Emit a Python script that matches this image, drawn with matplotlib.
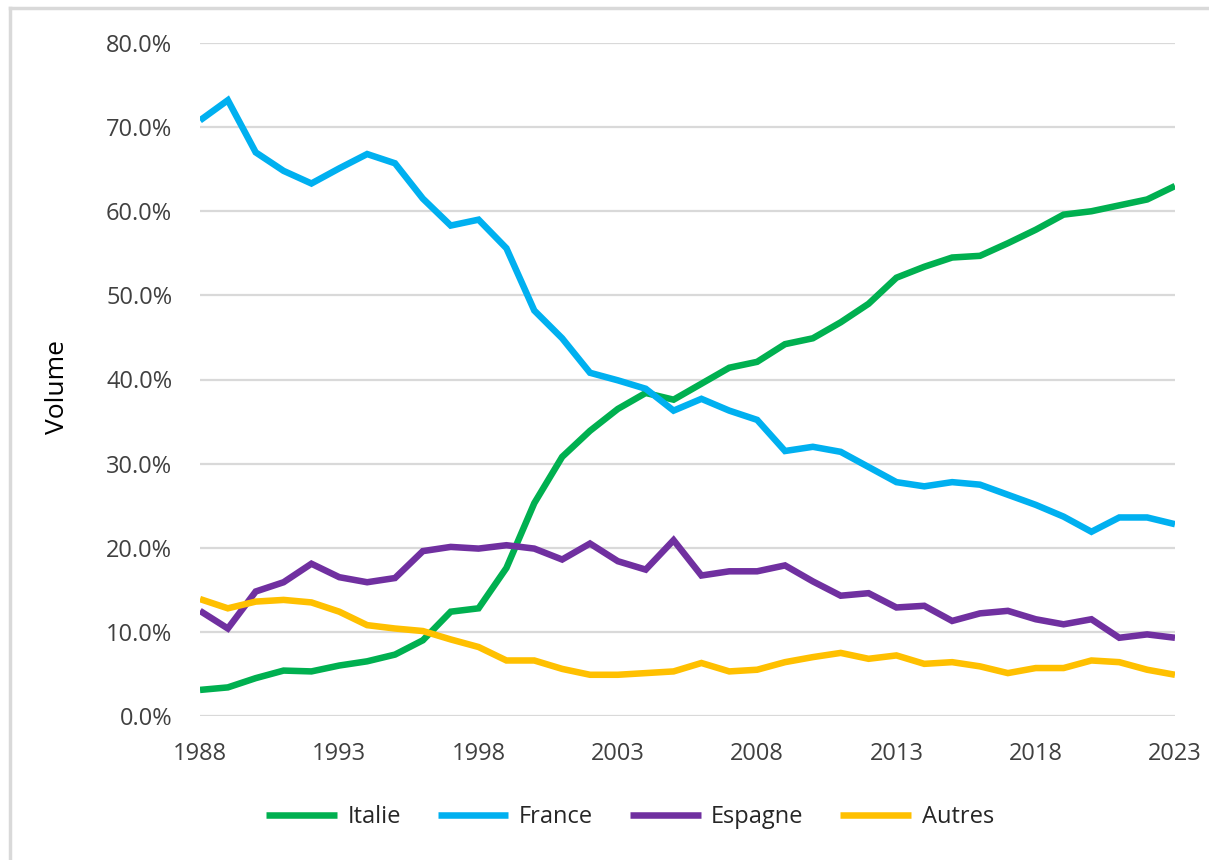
import matplotlib
matplotlib.use("Agg")
import matplotlib.pyplot as plt
from matplotlib.ticker import FuncFormatter, MultipleLocator
from matplotlib.lines import Line2D

years = list(range(1988, 2024))

italie = [3.1, 3.4, 4.5, 5.4, 5.3, 6.0, 6.5, 7.3, 9.0, 12.4, 12.8, 17.6,
          25.3, 30.8, 33.9, 36.5, 38.4, 37.6, 39.5, 41.4, 42.1, 44.2, 44.9, 46.8,
          49.0, 52.1, 53.4, 54.5, 54.7, 56.2, 57.8, 59.6, 60.0, 60.7, 61.4, 63.0]
france = [70.8, 73.2, 67.0, 64.8, 63.3, 65.1, 66.8, 65.7, 61.5, 58.3, 59.0, 55.6,
          48.2, 44.9, 40.8, 39.9, 38.9, 36.3, 37.7, 36.3, 35.2, 31.5, 32.0, 31.4,
          29.6, 27.8, 27.3, 27.8, 27.5, 26.3, 25.1, 23.7, 21.9, 23.6, 23.6, 22.8]
espagne = [12.5, 10.4, 14.8, 15.9, 18.1, 16.5, 15.9, 16.4, 19.6, 20.1, 19.9, 20.3,
           19.9, 18.6, 20.5, 18.4, 17.4, 20.9, 16.7, 17.2, 17.2, 17.9, 16.0, 14.3,
           14.6, 12.9, 13.1, 11.3, 12.2, 12.5, 11.5, 10.9, 11.5, 9.3, 9.7, 9.3]
autres = [13.9, 12.8, 13.6, 13.8, 13.5, 12.4, 10.8, 10.4, 10.1, 9.1, 8.2, 6.6,
          6.6, 5.6, 4.9, 4.9, 5.1, 5.3, 6.3, 5.3, 5.5, 6.4, 7.0, 7.5,
          6.8, 7.2, 6.2, 6.4, 5.9, 5.1, 5.7, 5.7, 6.6, 6.4, 5.5, 4.9]

series_names = ["Italie", "France", "Espagne", "Autres"]
series_values = [italie, france, espagne, autres]
colors = ["#00B050", "#00B0F0", "#7030A0", "#FFC000"]
xtick_years = [1988, 1993, 1998, 2003, 2008, 2013, 2018, 2023]

W, H = 1209, 860
fig = plt.figure(figsize=(W / 100, H / 100), dpi=100)
ax = fig.add_axes([200 / W, 1 - 716 / H, 975 / W, 673 / H])

for name, vals, c in zip(series_names, series_values, colors):
    ax.plot(years, vals, color=c, lw=4.7, label=name, solid_capstyle="butt",
            solid_joinstyle="miter", zorder=3)

ax.set_xlim(1988, 2023)
ax.set_ylim(0, 80)
ax.yaxis.set_major_locator(MultipleLocator(10))
ax.yaxis.set_major_formatter(FuncFormatter(lambda v, p: f"{v:.1f}%"))
ax.set_xticks(xtick_years)
ax.grid(axis="y", color="#D9D9D9", lw=1.6, zorder=0)
for s in ax.spines.values():
    s.set_visible(False)
ax.tick_params(length=0, labelsize=17, labelcolor="#404040")
ax.tick_params(axis="y", pad=20)
ax.tick_params(axis="x", pad=19)
for lab in ax.get_xticklabels() + ax.get_yticklabels():
    lab.set_fontfamily(["Open Sans", "DejaVu Sans"])

fig.text(57 / W, 1 - 387 / H, "Volume", rotation=90, ha="center", va="center",
         fontsize=19, color="#000000", family=["Open Sans", "DejaVu Sans"])

leg = fig.legend(loc="center", bbox_to_anchor=(630 / W, 1 - 817 / H), ncol=4,
                 frameon=False, handlelength=3.0, handletextpad=0.45,
                 columnspacing=1.55,
                 prop={"family": ["Liberation Sans Narrow", "Open Sans", "DejaVu Sans"], "size": 17})
for t in leg.get_texts():
    t.set_color("#262626")

# outer chart border (top and left visible)
fig.add_artist(Line2D([10 / W, 10 / W], [1 - 8 / H, 0], color="#D9D9D9", lw=2.5,
                      transform=fig.transFigure))
fig.add_artist(Line2D([10 / W, 1], [1 - 8 / H, 1 - 8 / H], color="#D9D9D9", lw=2.5,
                      transform=fig.transFigure))

fig.savefig("out.png", dpi=100)
